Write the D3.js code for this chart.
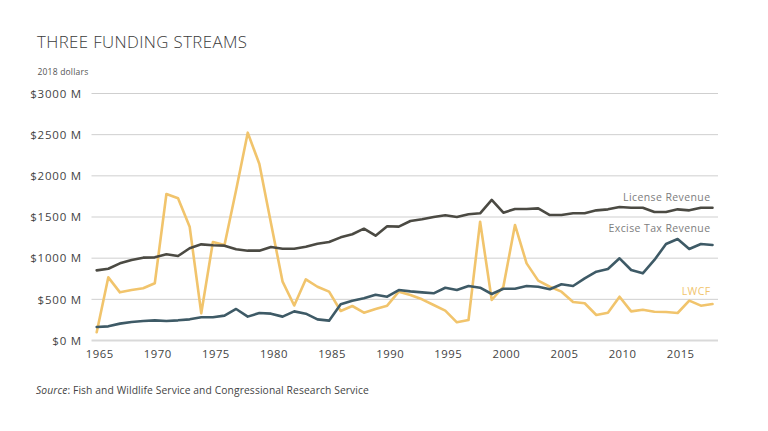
<!DOCTYPE html>
<html>
<head>
<meta charset="utf-8">
<script src="https://cdn.jsdelivr.net/npm/d3@7"></script>
<style>
  html, body { margin: 0; padding: 0; background: #fff; }
  svg { display: block; font-family: "Open Sans", Lato, sans-serif; }
</style>
</head>
<body>
<svg id="chart" width="768" height="431"></svg>
<script>
const years = d3.range(1965, 2019);
const license = [852,872,937,978,1006,1010,1047,1026,1120,1168,1156,1152,1108,1091,1091,1136,1115,1115,1139,1176,1196,1253,1290,1358,1273,1387,1383,1451,1472,1500,1521,1500,1533,1545,1707,1552,1597,1597,1605,1524,1524,1545,1545,1581,1593,1622,1613,1613,1561,1561,1593,1581,1613,1613];
const excise = [164,172,205,225,237,245,237,245,257,282,282,302,383,290,334,326,290,354,326,257,241,440,484,512,556,532,613,597,585,573,641,613,662,641,565,629,629,662,653,622,683,662,755,836,868,998,856,816,978,1172,1233,1111,1172,1160];
const lwcf = [100,767,585,613,634,695,1779,1727,1383,330,1196,1160,1828,2524,2144,1423,715,425,743,653,593,358,419,338,383,423,593,553,500,431,362,221,249,1443,492,653,1403,937,727,653,593,468,452,310,338,532,354,374,350,346,334,484,423,443];
const yTicks = [0,500,1000,1500,2000,2500,3000];
const xTicks = [1965,1970,1975,1980,1985,1990,1995,2000,2005,2010,2015];
const seriesNames = ["License Revenue","Excise Tax Revenue","LWCF"];
const colors = ["#4b4a43","#3e5a66","#f1c46c"];

const svg = d3.select("#chart");
const x = d3.scaleLinear().domain([1965, 2018]).range([96.7, 712.5]);
const y = d3.scaleLinear().domain([0, 3000]).range([340.5, 93.5]);

// title
svg.append("text").attr("x", 37).attr("y", 48).text("THREE FUNDING STREAMS")
  .attr("font-size", 16.8).attr("fill", "#3a3a3a").attr("font-weight", 300).attr("letter-spacing", 0.4);
svg.append("text").attr("x", 37.5).attr("y", 75).text("2018 dollars")
  .attr("font-size", 8.5).attr("fill", "#555").attr("letter-spacing", 0.2);

// gridlines
const grid = svg.append("g");
grid.selectAll("line").data(yTicks).join("line")
  .attr("x1", 91.5).attr("x2", 718)
  .attr("y1", d => y(d)).attr("y2", d => y(d))
  .attr("stroke", d => d === 0 ? "#d9d9d9" : "#cfcfcf")
  .attr("stroke-width", d => d === 0 ? 2 : 1);

// y axis labels
const yAxis = d3.axisLeft(y).tickValues(yTicks).tickSize(0).tickPadding(0)
  .tickFormat(d => "$" + d + " M");
const gy = svg.append("g").attr("transform", "translate(82,0)").call(yAxis);
gy.select(".domain").remove();
gy.selectAll("text").attr("font-size", 11.5).attr("fill", "#444").attr("letter-spacing", 0.8)
  .attr("font-family", "\"Open Sans\", Lato, sans-serif");

// x axis labels
const xAxis = d3.axisBottom(x).tickValues(xTicks).tickSize(0).tickPadding(0).tickFormat(d3.format("d"));
const gx = svg.append("g").attr("transform", "translate(2.5,350)").call(xAxis);
gx.select(".domain").remove();
gx.selectAll("text").attr("font-size", 11.3).attr("fill", "#444").attr("letter-spacing", 0.5)
  .attr("font-family", "\"Open Sans\", Lato, sans-serif");

// lines
const data = [license, excise, lwcf];
const line = d3.line().x((d, i) => x(years[i])).y(d => y(d));
[2, 1, 0].forEach(s => {
  svg.append("path").datum(data[s]).attr("d", line)
    .attr("fill", "none").attr("stroke", colors[s]).attr("stroke-width", 2.6)
    .attr("stroke-linejoin", "round").attr("stroke-linecap", "round");
});

// series labels
const labelY = [197, 228, 291];
const labelColors = ["#7d7d7d", "#7d7d7d", "#f1c46c"];
seriesNames.forEach((n, i) => {
  svg.append("text").attr("x", 710.5).attr("y", labelY[i]).attr("dy", "0.35em")
    .attr("text-anchor", "end").attr("font-size", 10.5).attr("fill", labelColors[i])
    .attr("letter-spacing", 0.4).text(n);
});

// source
const src = svg.append("text").attr("x", 36).attr("y", 394).attr("font-size", 10.3).attr("fill", "#444")
  .attr("letter-spacing", 0.1);
src.append("tspan").attr("font-style", "italic").text("Source");
src.append("tspan").text(": Fish and Wildlife Service and Congressional Research Service");
</script>
</body>
</html>
